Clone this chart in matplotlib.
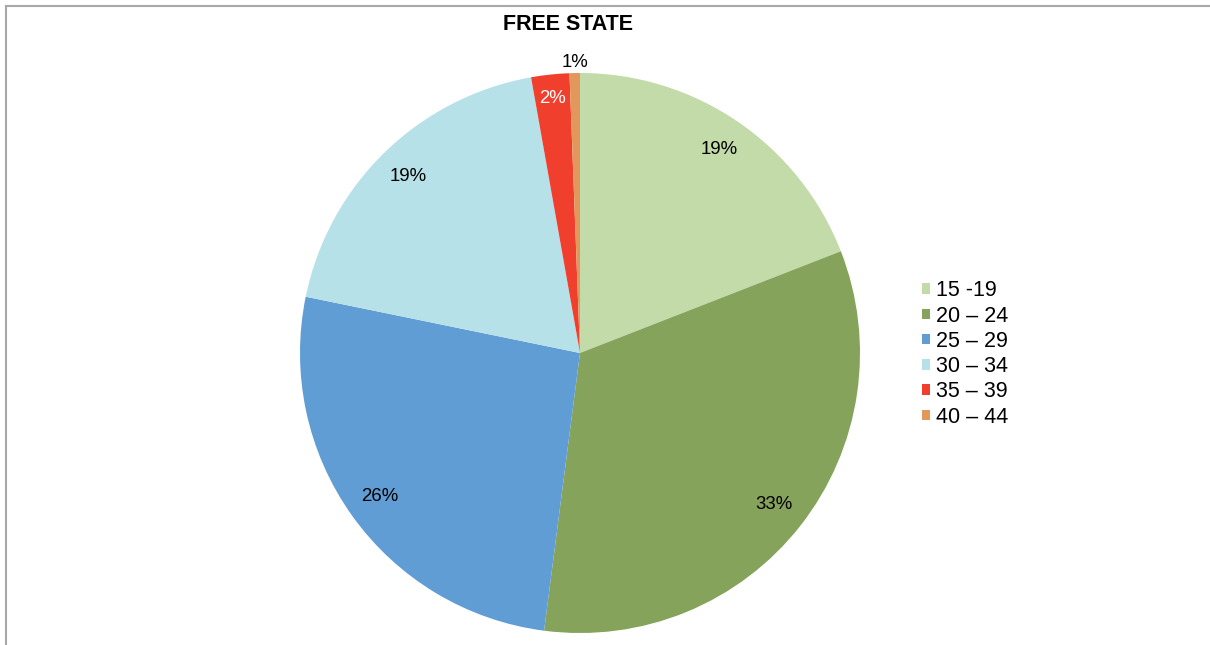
import matplotlib
matplotlib.use("Agg")
import matplotlib.pyplot as plt
from matplotlib.lines import Line2D
from matplotlib.patches import Patch

plt.rcParams["font.family"] = ["Liberation Sans", "DejaVu Sans"]

# data (percent share by age group)
groups = ["15 -19", "20 \u2013 24", "25 \u2013 29", "30 \u2013 34", "35 \u2013 39", "40 \u2013 44"]
shares = [19.1, 33.0, 26.2, 19.0, 2.2, 0.6]
colors = ["#C3DAA9", "#85A35B", "#609DD4", "#B7E1E8", "#F0402D", "#E1985A"]

W, H = 1210, 645
fig = plt.figure(figsize=(W / 100, H / 100), dpi=100)

# pie centre ~ (580, 353) px, radius ~280 px
cx, cy, r = 580, 353, 280
ax = fig.add_axes([(cx - r) / W, (H - cy - r) / H, 2 * r / W, 2 * r / H])
wedges, _, autotexts = ax.pie(shares, colors=colors, startangle=90, counterclock=False,
                              autopct="%.0f%%", pctdistance=0.88, radius=1.0,
                              wedgeprops=dict(linewidth=0),
                              textprops=dict(fontsize=13.4, color="black"))
ax.set_xlim(-1, 1); ax.set_ylim(-1, 1); ax.set_aspect("equal")
ax.axis("off")

# small slices: the 2% sits inside in white, the 1% goes above the pie
autotexts[4].set_color("white")
x5, y5 = autotexts[4].get_position()
autotexts[4].set_position((x5 * 1.04, y5 * 1.04))
x6, y6 = autotexts[5].get_position()
autotexts[5].set_position((x6 * 1.18, y6 * 1.18))

fig.text(568 / W, 1 - 24.5 / H, "FREE STATE", ha="center", va="center",
         fontsize=15.5, fontweight="bold")

handles = [Patch(facecolor=c, edgecolor="none") for c in colors]
fig.legend(handles, groups, loc="center left", bbox_to_anchor=(922 / W, 1 - 354 / H),
           bbox_transform=fig.transFigure, frameon=False, fontsize=15.5,
           handlelength=0.38, handleheight=0.38, handletextpad=0.25,
           labelspacing=0.2, borderpad=0, borderaxespad=0)

# thin grey chart-area border (top and left visible)
fig.add_artist(Line2D([6 / W, 1], [1 - 6 / H, 1 - 6 / H], transform=fig.transFigure,
                      color="#A8A8A8", lw=1.5))
fig.add_artist(Line2D([6 / W, 6 / W], [0, 1 - 6 / H], transform=fig.transFigure,
                      color="#A8A8A8", lw=1.5))

fig.savefig("out.png", dpi=100, facecolor="white")
